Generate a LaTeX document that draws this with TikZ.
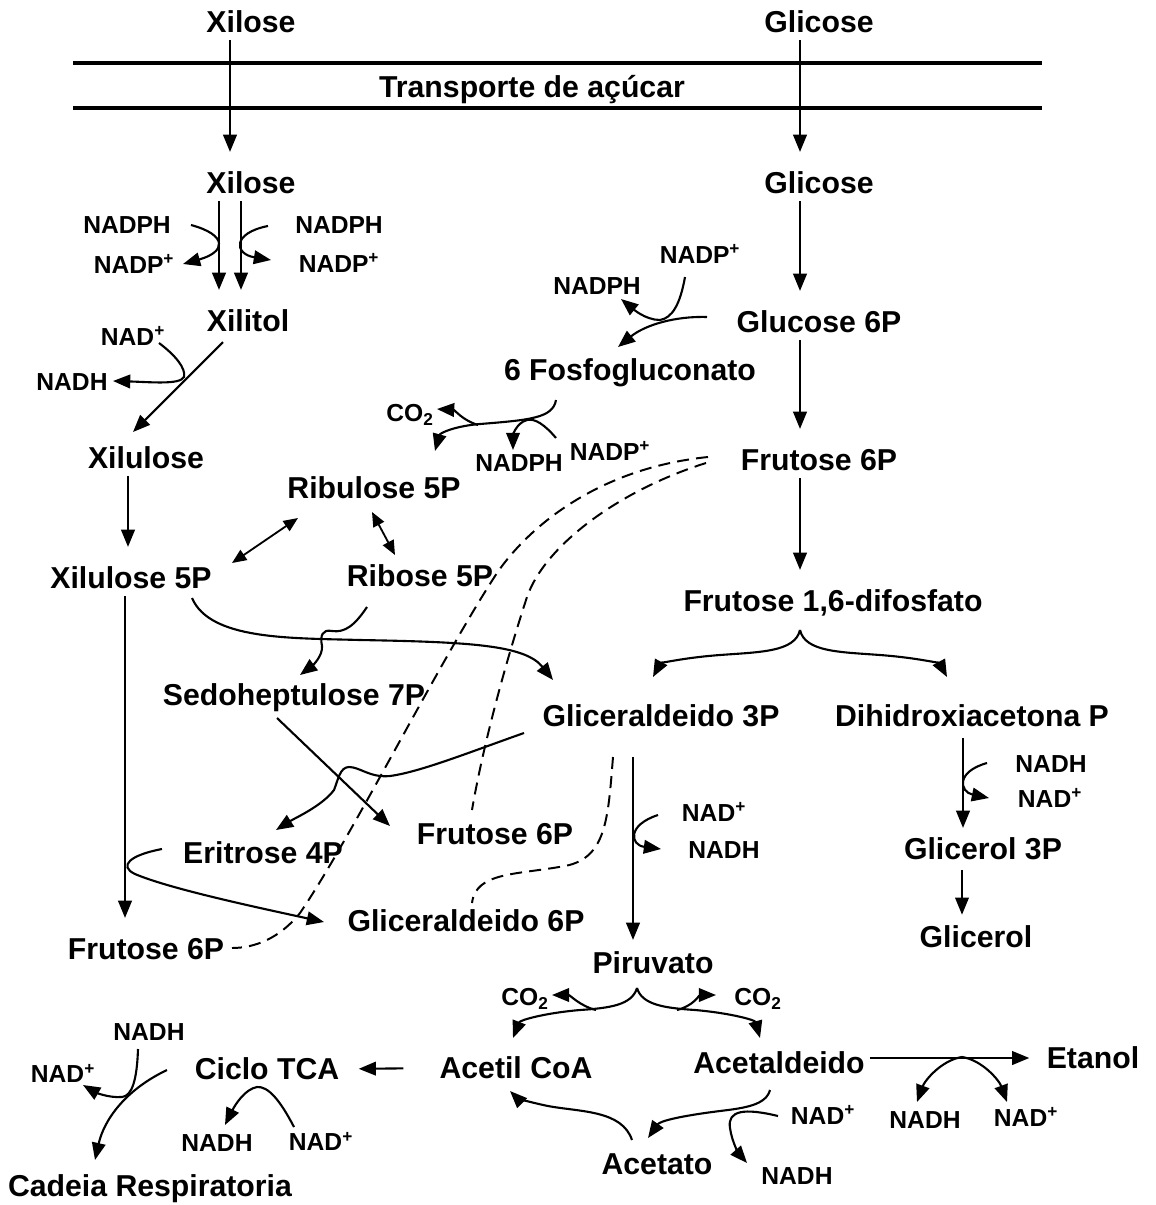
\documentclass[tikz,border=0pt]{standalone}
\usepackage{fontspec}
\setmainfont{Liberation Sans}
\usetikzlibrary{arrows.meta}

\tikzset{
  big/.style={font=\fontsize{21.5}{24}\selectfont\bfseries, inner sep=0pt, text height=0.54cm, text depth=0pt},
  sml/.style={font=\fontsize{17.5}{20}\selectfont\bfseries, inner sep=0pt, text height=0.44cm, text depth=0pt},
  arr/.style={line width=1.5pt, -{Triangle[length=4.3mm,width=3.4mm]}},
  darr/.style={line width=1.3pt, {Triangle[length=3.6mm,width=3mm]}-{Triangle[length=3.6mm,width=3mm]}},
  flow/.style={arr, shorten <=0.18cm, shorten >=0.5cm},
  dashline/.style={line width=1.4pt, dash pattern=on 0.3cm off 0.18cm},
  memb/.style={line width=2.6pt}
}

\begin{document}
\begin{tikzpicture}[x=0.025cm, y=-0.025cm]
  \useasboundingbox (0,0) rectangle (1156,1205);

  % membrana
  \draw[memb] (73,63) -- (1042,63);
  \draw[memb] (73,108) -- (1042,108);
  \node[big] (transp) at (532,87) {Transporte de açúcar};

  % metabolitos
  \node[big] (xilo) at (251,22) {Xilose};
  \node[big] (glco) at (819,22) {Glicose};
  \node[big] (xili) at (251,183) {Xilose};
  \node[big] (glci) at (819,183) {Glicose};
  \node[big] (xlt) at (248,321) {Xilitol};
  \node[big] (g6p) at (819,322) {Glucose 6P};
  \node[big] (fgl) at (630,370) {6 Fosfogluconato};
  \node[big] (xlu) at (146,458) {Xilulose};
  \node[big] (f6p) at (819,460) {Frutose 6P};
  \node[big] (rbl) at (374,488) {Ribulose 5P};
  \node[big] (xl5) at (131,578) {Xilulose 5P};
  \node[big] (rib) at (420,576) {Ribose 5P};
  \node[big] (fbp) at (833,601) {Frutose 1,6-difosfato};
  \node[big] (sed) at (294,695) {Sedoheptulose 7P};
  \node[big] (g3p) at (661,716) {Gliceraldeido 3P};
  \node[big] (dhap) at (972,716) {Dihidroxiacetona P};
  \node[big] (f6pm) at (495,834) {Frutose 6P};
  \node[big] (e4p) at (263,853) {Eritrose 4P};
  \node[big] (gol3) at (983,849) {Glicerol 3P};
  \node[big] (g6pb) at (466,921) {Gliceraldeido 6P};
  \node[big] (gol) at (976,937) {Glicerol};
  \node[big] (f6pl) at (146,949) {Frutose 6P};
  \node[big] (pyr) at (653,963) {Piruvato};
  \node[big] (acoa) at (516,1068) {Acetil CoA};
  \node[big] (acal) at (779,1063) {Acetaldeido};
  \node[big] (etoh) at (1093,1058) {Etanol};
  \node[big] (tca) at (267,1069) {Ciclo TCA};
  \node[big] (ace) at (657,1164) {Acetato};
  \node[big] (resp) at (150,1186) {Cadeia Respiratoria};

  % cofatores
  \node[sml] (nadph1) at (127,225) {NADPH};
  \node[sml] (nadp1) at (134,265) {NADP\textsuperscript{+}};
  \node[sml] (nadph2) at (339,225) {NADPH};
  \node[sml] (nadp2) at (339,264) {NADP\textsuperscript{+}};
  \node[sml] (nad1) at (133,337) {NAD\textsuperscript{+}};
  \node[sml] (nadh1) at (72,382) {NADH};
  \node[sml] (nadp3) at (700,255) {NADP\textsuperscript{+}};
  \node[sml] (nadph3) at (597,286) {NADPH};
  \node[sml] (co2a) at (410,413) {CO\textsubscript{2}};
  \node[sml] (nadph4) at (519,463) {NADPH};
  \node[sml] (nadp4) at (610,452) {NADP\textsuperscript{+}};
  \node[sml] (nadh2) at (1051,764) {NADH};
  \node[sml] (nad2) at (1050,799) {NAD\textsuperscript{+}};
  \node[sml] (nad3) at (714,813) {NAD\textsuperscript{+}};
  \node[sml] (nadh3) at (724,850) {NADH};
  \node[sml] (co2b) at (525,997) {CO\textsubscript{2}};
  \node[sml] (co2c) at (758,997) {CO\textsubscript{2}};
  \node[sml] (nad4) at (823,1116) {NAD\textsuperscript{+}};
  \node[sml] (nadh4) at (797,1176) {NADH};
  \node[sml] (nadh5) at (925,1120) {NADH};
  \node[sml] (nad5) at (1026,1118) {NAD\textsuperscript{+}};
  \node[sml] (nadh6) at (149,1032) {NADH};
  \node[sml] (nad6) at (63,1074) {NAD\textsuperscript{+}};
  \node[sml] (nadh7) at (217,1143) {NADH};
  \node[sml] (nad7) at (321,1142) {NAD\textsuperscript{+}};

  % setas retas
  \draw[flow] (xilo.south -| 230,0) -- (xili.north -| 230,0);
  \draw[flow] (glco.south -| 800,0) -- (glci.north -| 800,0);
  \draw[flow] (xili.south -| 219,0) -- (xlt.north -| 219,0);
  \draw[flow] (xili.south -| 241,0) -- (xlt.north -| 241,0);
  \draw[flow] (glci.south -| 800,0) -- (g6p.north -| 800,0);
  \draw[flow] (g6p.south -| 800,0) -- (f6p.north -| 800,0);
  \draw[flow] (f6p.south -| 800,0) -- (fbp.north -| 800,0);
  \draw[flow] (xlu.south -| 128,0) -- (xl5.north -| 128,0);
  \draw[flow] (xl5.south -| 125,0) -- (f6pl.north -| 125,0);
  \draw[arr, shorten <=0.75cm, shorten >=0.3cm] (g3p.south -| 633,0) -- (pyr.north -| 633,0);
  \draw[arr, shorten <=0.28cm, shorten >=0.25cm] (dhap.south -| 963,0) -- (gol3.north -| 963,0);
  \draw[arr, shorten <=0.25cm, shorten >=0.28cm] (gol3.south -| 962,0) -- (gol.north -| 962,0);
  \draw[arr, shorten <=0.9cm, shorten >=0.48cm] (acoa.west) -- (tca.east);
  \draw[arr, shorten <=0.12cm, shorten >=0.43cm] (acal.east |- etoh) -- (etoh.west);
  \draw[arr] (223,342) -- (133,432);
  \draw[arr] (277,718) -- (390,826);
  \draw[darr] (232,563) -- (298,518);
  \draw[darr] (372,512) -- (395,555);

  % xilose redutase
  \draw[arr] (191,225) .. controls (228,235) and (226,252) .. (183,264);
  \draw[arr] (268,226) .. controls (232,233) and (234,254) .. (271,260);
  \draw[arr] (159,343) .. controls (175,355) and (186,368) .. (184,377) .. controls (180,385) and (150,382) .. (113,381);

  % via das pentoses
  \draw[arr] (707,317) .. controls (675,316) and (645,325) .. (618,347);
  \draw[arr] (685,277) .. controls (680,305) and (672,318) .. (660,320) .. controls (645,320) and (632,308) .. (621,299);
  \draw[arr] (556,400) .. controls (553,418) and (530,420) .. (480,424) .. controls (455,426) and (440,433) .. (435,451);
  \draw[arr] (478,425) .. controls (462,420) and (455,410) .. (437,409);
  \draw[arr] (556,438) .. controls (545,425) and (535,418) .. (527,420) .. controls (516,423) and (513,436) .. (513,450);
  \draw[arr] (192,598) .. controls (210,640) and (290,638) .. (360,640) .. controls (470,642) and (525,645) .. (553,680);
  \draw[arr] (367,607) .. controls (355,625) and (345,633) .. (332,631) .. controls (322,629) and (320,636) .. (322,646) .. controls (323,656) and (312,666) .. (300,675);
  \draw[arr] (524,733) .. controls (470,752) and (420,772) .. (390,776) .. controls (370,778) and (360,767) .. (349,767) .. controls (340,767) and (338,780) .. (334,790) .. controls (322,806) and (295,818) .. (276,830);
  \draw[arr] (162,849) .. controls (130,855) and (118,866) .. (135,874) .. controls (170,889) and (260,908) .. (324,922);

  % ligacoes tracejadas
  \draw[dashline] (708,457) .. controls (600,468) and (530,525) .. (497,573) .. controls (440,660) and (350,840) .. (300,913) .. controls (280,938) and (255,948) .. (232,948);
  \draw[dashline] (706,463) .. controls (620,490) and (545,545) .. (527,597) .. controls (508,655) and (484,740) .. (472,810);
  \draw[dashline] (613,757) .. controls (608,820) and (606,858) .. (565,866) .. controls (515,875) and (476,872) .. (472,903);

  % glicolise
  \draw[arr] (800,630) .. controls (795,652) and (760,652) .. (720,655) .. controls (680,658) and (660,664) .. (653,677);
  \draw[arr] (800,630) .. controls (805,652) and (840,652) .. (880,655) .. controls (920,658) and (940,664) .. (947,677);
  \draw[arr] (987,763) .. controls (955,772) and (960,792) .. (989,798);
  \draw[arr] (658,815) .. controls (627,825) and (630,845) .. (661,849);

  % piruvato
  \draw[arr] (637,988) .. controls (632,1005) and (610,1008) .. (580,1010) .. controls (545,1013) and (520,1020) .. (513,1038);
  \draw[arr] (637,988) .. controls (642,1005) and (665,1008) .. (695,1010) .. controls (730,1013) and (755,1020) .. (760,1038);
  \draw[arr] (596,1010) .. controls (580,1006) and (570,995) .. (552,995);
  \draw[arr] (677,1010) .. controls (693,1006) and (700,995) .. (716,995);
  \draw[arr] (632,1140) .. controls (622,1110) and (580,1112) .. (548,1106) .. controls (528,1102) and (516,1097) .. (510,1091);
  \draw[arr] (770,1090) .. controls (766,1105) and (745,1108) .. (720,1111) .. controls (680,1116) and (660,1121) .. (648,1138);
  \draw[arr] (778,1116) .. controls (745,1108) and (727,1110) .. (730,1128) .. controls (732,1143) and (740,1155) .. (747,1163);
  \draw[arr] (962,1057) .. controls (942,1060) and (925,1080) .. (917,1102);
  \draw[arr] (962,1057) .. controls (982,1060) and (999,1080) .. (1007,1102);

  % ciclo TCA
  \draw[arr] (294,1127) .. controls (280,1100) and (268,1086) .. (257,1087) .. controls (245,1089) and (235,1105) .. (225,1125);
  \draw[arr] (167,1070) .. controls (125,1090) and (104,1120) .. (95,1160);
  \draw[arr] (138,1049) .. controls (137,1080) and (132,1096) .. (122,1097) .. controls (108,1098) and (95,1092) .. (83,1085);
\end{tikzpicture}
\end{document}
